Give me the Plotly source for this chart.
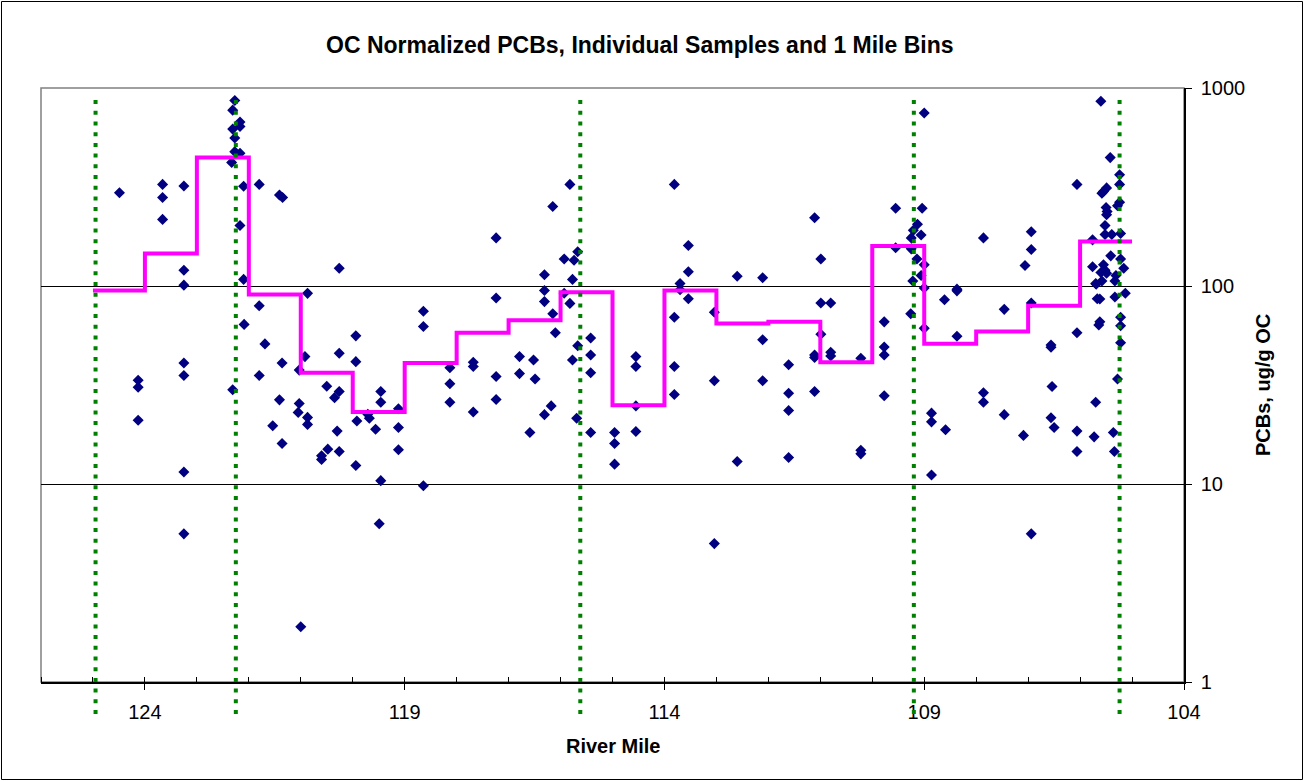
import plotly.graph_objects as go

# ---------------- data ----------------
sample_mile = [
    124.49, 123.66, 123.66, 123.66, 123.25, 123.25, 123.25, 123.25, 123.25, 123.25, 123.25,
    124.13, 124.13, 124.13, 122.31,
    122.27, 122.31, 122.17, 122.17, 122.31, 122.27, 122.27, 122.17, 122.33,
    122.10, 121.80, 121.41, 121.35, 122.17, 120.26, 122.10, 120.87, 121.80, 122.09, 119.94,
    121.69, 120.92, 120.26, 119.94, 121.36, 121.03, 121.80, 120.50, 120.26, 120.35, 121.41,
    119.46, 119.46, 121.03, 121.05, 119.12, 119.71, 119.68, 120.87, 120.87, 121.54, 119.92,
    119.56, 119.12, 120.30, 121.36, 120.48, 120.26, 120.60, 120.60, 119.12, 119.94, 119.46,
    118.64, 119.49, 121.00, 118.64, 118.64,
    118.13, 118.13, 118.13, 117.68, 117.68, 117.68, 117.24, 117.24, 117.24, 117.24, 116.79,
    116.79, 116.52, 116.49, 116.59, 116.31, 116.31, 116.31, 116.31, 116.18, 116.15, 116.15,
    116.10, 115.93, 115.93, 115.82, 115.82, 115.74, 115.67, 115.77, 115.67, 115.77, 115.69,
    115.42, 115.42, 115.42, 115.42, 114.96, 114.96, 114.96,
    114.55, 114.55, 114.55, 114.55, 113.81, 113.81, 113.81, 113.81, 113.70, 113.70, 113.54,
    113.54, 113.54, 113.04, 113.04, 113.04, 112.60, 112.60, 112.11, 112.11, 112.11, 111.61,
    111.61, 111.61, 111.61,
    111.11, 110.99, 110.99, 110.80, 110.99, 111.11, 111.11, 110.80, 110.80, 111.11, 110.22,
    110.22, 110.22, 109.77, 109.77, 109.77, 109.77, 109.55, 109.55, 109.00, 109.04, 109.13,
    109.21, 109.06, 109.25, 109.25, 109.14, 109.00, 109.06, 109.22, 109.00, 109.26, 109.00,
    108.61, 108.37, 108.37, 108.37, 108.86, 108.86, 108.59, 108.86, 107.86, 107.86, 107.86,
    107.46, 107.46, 107.09, 107.06, 106.94, 106.94, 106.94, 106.94, 106.56, 106.56, 106.54,
    106.56, 106.50, 106.06, 106.06, 106.06, 106.06, 105.76, 105.76, 105.70, 105.67, 105.62,
    105.70, 105.73, 105.62, 105.64, 105.60, 105.55, 105.49, 105.58, 105.50, 105.48, 105.52,
    105.49, 105.42, 105.55, 105.52, 105.60, 105.49, 105.58, 105.69, 105.41, 105.52, 105.39,
    105.33, 105.36, 105.34, 105.28, 105.24, 105.24, 105.24, 105.28, 105.22, 105.33, 105.16,
    105.22, 105.13, 105.22, 105.22, 105.22, 105.31,
]
sample_pcb = [
    296, 326, 280, 217, 320, 120, 101, 40.8, 35.3, 11.5, 5.6,
    33.4, 30.8, 21.0, 29.9,
    865, 773, 674, 640, 620, 559, 477, 468, 421,
    319, 326, 288, 280, 202, 123, 108, 91.8, 79.4, 64, 56,
    51, 44, 45.7, 41.5, 40.8, 37.6, 35.3, 31.2, 29.3, 27.3, 26.6,
    29.3, 25.9, 25.5, 23.0, 24.0, 22.5, 21.5, 21.7, 20.0, 19.7, 20.8,
    18.9, 19.3, 18.5, 16.0, 15.0, 14.6, 13.9, 13.3, 14.9, 12.4, 10.4,
    9.8, 6.3, 1.9, 74.6, 62.4,
    38.7, 32.1, 25.9, 41.2, 39.2, 23.1, 175, 87, 34.9, 26.7, 44,
    36.1, 42.3, 33.9, 18.2, 114, 95, 83.4, 22.4, 24.8, 252, 72.4,
    58, 137, 92, 326, 81.7, 135, 149, 108, 49.9, 42.3, 21.5,
    54.6, 44.8, 36.5, 18.2, 18.2, 16.0, 12.6,
    44, 39.2, 24.8, 18.4, 326, 69.5, 39.2, 28.3, 103, 95.7, 160,
    118, 86.3, 73.7, 33.2, 5.0, 112, 13.0, 110, 53.5, 33.2, 40,
    28.7, 23.5, 13.6,
    221, 137, 82, 82, 57, 44.8, 43.5, 46.3, 44.3, 29.3, 43.1,
    14.8, 14.2, 65.9, 49.2, 44.8, 27.9, 247, 156, 748, 247, 205,
    191, 181, 175, 154, 137, 128, 113, 106, 97.7, 72.4, 61.1,
    85.2, 96.4, 94.5, 55.8, 22.8, 20.6, 18.8, 11.1, 175, 28.9, 25.9,
    76.2, 22.4, 17.6, 127, 188, 153, 82, 5.6, 50.3, 49, 31.1,
    21.6, 19.3, 326, 58.1, 18.5, 14.6, 171, 125, 103, 86.3, 85.9,
    25.9, 17.3, 65.9, 63.5, 858, 300, 313, 294, 249, 238, 202,
    229, 445, 128, 120, 117, 116, 106, 102, 142, 182, 182,
    106, 18.2, 14.6, 33.9, 365, 326, 265, 254, 184, 88, 123,
    137, 92, 69.5, 63, 51.7, 113,
]

# 1-mile bins (upstream edge of each bin) and bin averages
bin_edges = [125, 124, 123, 122, 121, 120, 119, 118, 117, 116, 115,
             114, 113, 112, 111, 110, 109, 108, 107, 106, 105]
bin_values = [95, 146, 445, 90.7, 36.5, 23.1, 40.8, 58, 67.2, 93, 25,
              95, 64.6, 65.9, 41.2, 159, 51.1, 58.9, 79.4, 168]

# vertical reference lines (river miles)
ref_miles = [124.95, 122.25, 115.62, 109.2, 105.24]

x_tick_vals = [124, 119, 114, 109, 104]
y_tick_vals = [1, 10, 100, 1000]

FONT = "Liberation Sans, Arial, sans-serif"

fig = go.Figure()

fig.add_trace(go.Scatter(
    x=sample_mile, y=sample_pcb, mode="markers",
    marker=dict(symbol="diamond", size=8.5, color="#000080", line=dict(width=0)),
    showlegend=False, cliponaxis=True,
))

fig.add_trace(go.Scatter(
    x=bin_edges, y=bin_values + [bin_values[-1]], mode="lines",
    line=dict(color="#FF00FF", width=4, shape="hv"),
    showlegend=False,
))

shapes = []
L, R, T, B = 41, 120, 88, 99
PW, PH = 1304 - L - R, 781 - T - B
def px_x(p):
    return (p - L) / PW
def px_y(p):
    return (781 - B - p) / PH
# plot area border (grey)
shapes.append(dict(type="rect", xref="paper", yref="paper", x0=0, x1=1, y0=0, y1=1,
                   line=dict(color="#808080", width=1.5), layer="below"))
# outer chart border
shapes.append(dict(type="rect", xref="paper", yref="paper",
                   x0=px_x(1.5), x1=px_x(1302.5), y0=px_y(779.5), y1=px_y(1.5),
                   line=dict(color="black", width=1), layer="below"))
for m in ref_miles:
    shapes.append(dict(type="line", xref="x", yref="paper", x0=m, x1=m,
                       y0=px_y(714), y1=px_y(96),
                       line=dict(color="#008000", width=4, dash="4px,6.7px"), layer="above"))

fig.update_layout(
    width=1304, height=781, autosize=False,
    margin=dict(l=L, r=R, t=T, b=B, pad=0),
    paper_bgcolor="white", plot_bgcolor="white",
    font=dict(family=FONT, color="black", size=20),
    shapes=shapes,
    showlegend=False,
    xaxis=dict(
        range=[126, 104], tickmode="array", tickvals=x_tick_vals,
        ticktext=[str(v) for v in x_tick_vals],
        ticks="outside", ticklen=6, tickcolor="black", tickwidth=1,
        ticklabelstandoff=5,
        showline=True, linecolor="black", linewidth=1.5,
        showgrid=False, zeroline=False,
        tickfont=dict(family=FONT, size=20, color="black"),
        minor=dict(tickmode="linear", tick0=104, dtick=1, ticks="inside",
                   ticklen=5, tickcolor="black", tickwidth=1, showgrid=False),
    ),
    yaxis=dict(
        type="log", range=[0, 3], side="right",
        tickmode="array", tickvals=y_tick_vals,
        ticktext=[str(v) for v in y_tick_vals],
        ticks="outside", ticklen=6, tickcolor="black", tickwidth=1,
        ticklabelstandoff=5,
        showline=True, linecolor="black", linewidth=1.5,
        showgrid=False, zeroline=False,
        tickfont=dict(family=FONT, size=20, color="black"),
        minor=dict(tickmode="array", tickvals=[10, 100], ticks="",
                   showgrid=True, gridcolor="black", gridwidth=1),
    ),
    annotations=[
        dict(text="<b>OC Normalized PCBs, Individual Samples and 1 Mile Bins</b>",
             xref="paper", yref="paper", x=px_x(640), y=px_y(45),
             xanchor="center", yanchor="middle", showarrow=False,
             font=dict(family=FONT, size=23, color="black")),
        dict(text="<b>River Mile</b>",
             xref="paper", yref="paper", x=px_x(613), y=px_y(746),
             xanchor="center", yanchor="middle", showarrow=False,
             font=dict(family=FONT, size=20, color="black")),
        dict(text="<b>PCBs, ug/g OC</b>",
             xref="paper", yref="paper", x=px_x(1263), y=px_y(385),
             xanchor="center", yanchor="middle", showarrow=False, textangle=-90,
             font=dict(family=FONT, size=20, color="black")),
    ],
)

fig.write_html("out.html")
